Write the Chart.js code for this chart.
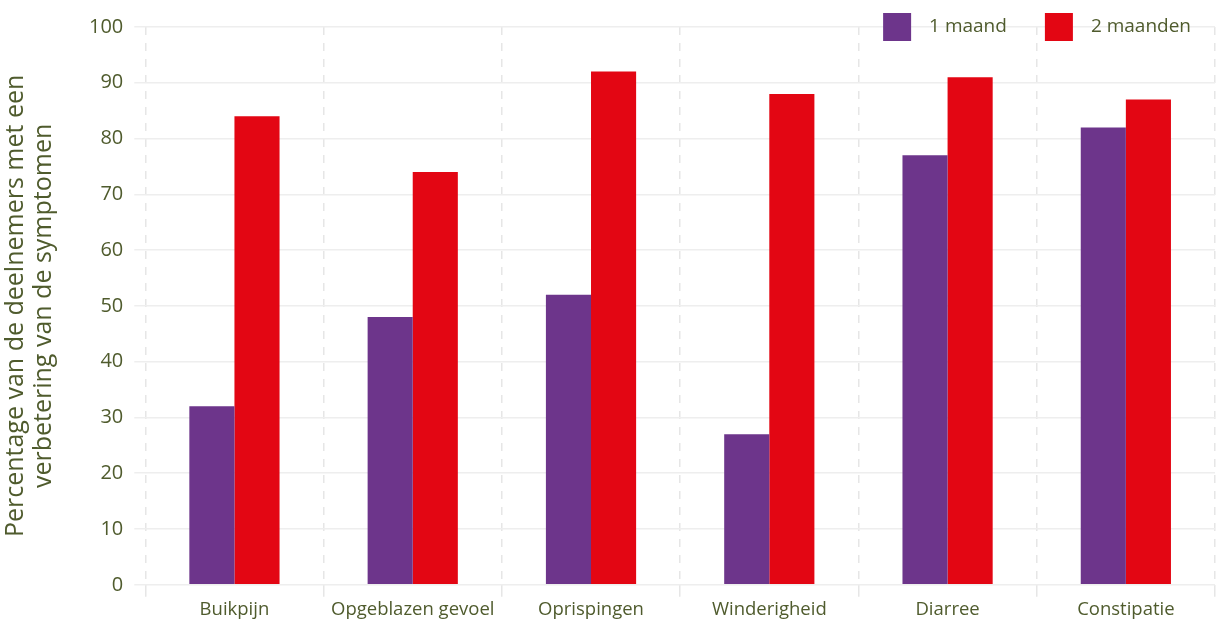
<!DOCTYPE html>
<html>
<head>
<meta charset="utf-8">
<script src="https://cdn.jsdelivr.net/npm/chart.js@4.4.0/dist/chart.umd.min.js"></script>
<style>
  html, body { margin: 0; padding: 0; background: #fff; }
  #wrap { width: 1217px; height: 623px; }
</style>
</head>
<body>
<div id="wrap"><canvas id="chart" width="1217" height="623"></canvas></div>
<script>
// data
const symptoms = ['Buikpijn', 'Opgeblazen gevoel', 'Oprispingen', 'Winderigheid', 'Diarree', 'Constipatie'];
const oneMonth = [32, 48, 52, 27, 77, 82];
const twoMonths = [84, 74, 92, 88, 91, 87];
const seriesNames = ['1 maand', '2 maanden'];
const yTitle = ['Percentage van de deelnemers met een', 'verbetering van de symptomen'];

const textColor = '#4f5b2d';
const fontFamily = '"Open Sans", Roboto, sans-serif';

// legend drawn top right, over the plot like in the original
const cornerLegend = {
    id: 'cornerLegend',
    afterDraw(chart) {
        const ctx = chart.ctx;
        const sets = chart.data.datasets;
        ctx.save();
        ctx.font = '19px ' + fontFamily;
        ctx.textBaseline = 'middle';
        let x = 1191;
        const y = 27;
        for (let i = sets.length - 1; i >= 0; i--) {
            const w = ctx.measureText(sets[i].label).width;
            ctx.fillStyle = textColor;
            ctx.fillText(sets[i].label, x - w, y);
            x = x - w - 18 - 28;
            ctx.fillStyle = sets[i].backgroundColor;
            ctx.fillRect(x, y - 14, 28, 28);
            x -= 38;
        }
        ctx.restore();
    }
};

new Chart(document.getElementById('chart'), {
    type: 'bar',
    data: {
        labels: symptoms,
        datasets: [
            { label: seriesNames[0], data: oneMonth, backgroundColor: '#6d358b' },
            { label: seriesNames[1], data: twoMonths, backgroundColor: '#e30613' }
        ]
    },
    options: {
        responsive: false,
        animation: false,
        layout: { padding: { top: 27, right: 2, left: 2, bottom: 0 } },
        datasets: { bar: { barPercentage: 1, categoryPercentage: 0.506 } },
        plugins: {
            legend: { display: false },
            tooltip: { enabled: false }
        },
        scales: {
            x: {
                grid: { color: '#e6e6e6', lineWidth: 1.5, offset: true, tickLength: 12, drawOnChartArea: true },
                border: { display: false, dash: [8, 8] },
                ticks: {
                    color: textColor,
                    font: { family: fontFamily, size: 18.5 },
                    padding: 2,
                    maxRotation: 0,
                    minRotation: 0,
                    autoSkip: false
                }
            },
            y: {
                min: 0,
                max: 100,
                ticks: { stepSize: 10, color: textColor, font: { family: fontFamily, size: 20 }, padding: 11 },
                grid: { color: '#eeeeee', lineWidth: 1.5, tickLength: 11 },
                border: { display: false },
                title: {
                    display: true,
                    text: yTitle,
                    color: textColor,
                    font: { family: fontFamily, size: 25, lineHeight: 1.12 },
                    padding: { top: 0, bottom: 20 }
                }
            }
        }
    },
    plugins: [cornerLegend]
});
</script>
</body>
</html>
